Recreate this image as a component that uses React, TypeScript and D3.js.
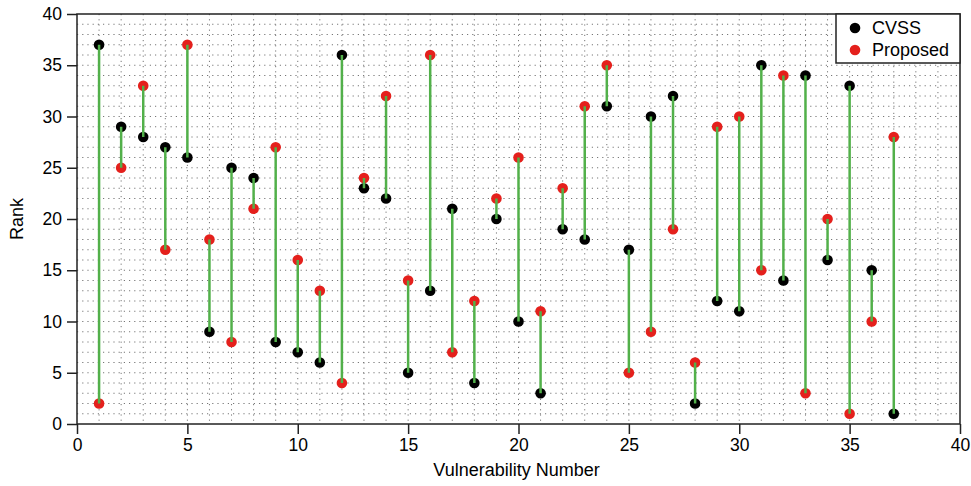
import React, { useEffect, useRef } from 'react';
import * as d3 from 'd3';

const width = 971,
  height = 486;
const margin = { top: 14, right: 11, bottom: 62, left: 77 };

// vulnerability numbers 1..37
const vulnIds = [1, 2, 3, 4, 5, 6, 7, 8, 9, 10, 11, 12, 13, 14, 15, 16, 17, 18, 19, 20, 21, 22, 23, 24, 25, 26, 27, 28, 29, 30, 31, 32, 33, 34, 35, 36, 37];
const cvssRank = [37, 29, 28, 27, 26, 9, 25, 24, 8, 7, 6, 36, 23, 22, 5, 13, 21, 4, 20, 10, 3, 19, 18, 31, 17, 30, 32, 2, 12, 11, 35, 14, 34, 16, 33, 15, 1];
const proposedRank = [2, 25, 33, 17, 37, 18, 8, 21, 27, 16, 13, 4, 24, 32, 14, 36, 7, 12, 22, 26, 11, 23, 31, 35, 5, 9, 19, 6, 29, 30, 15, 34, 3, 20, 1, 10, 28];
const xTicks = [0, 5, 10, 15, 20, 25, 30, 35, 40];
const yTicks = [0, 5, 10, 15, 20, 25, 30, 35, 40];
const legendItems = [
  { name: 'CVSS', color: '#000000' },
  { name: 'Proposed', color: '#e4201c' },
];

const FONT = '"Liberation Sans", Arial, Helvetica, sans-serif';

export default function App() {
  const ref = useRef<SVGSVGElement>(null);

  useEffect(() => {
    const svg = d3.select(ref.current);
    svg.selectAll('*').remove();

    const iw = width - margin.left - margin.right;
    const ih = height - margin.top - margin.bottom;

    const x = d3.scaleLinear().domain([0, 40]).range([0, iw]);
    const y = d3.scaleLinear().domain([0, 40]).range([ih, 0]);

    const g = svg.append('g').attr('transform', `translate(${margin.left},${margin.top})`);

    // dotted grid at every unit
    const units = d3.range(1, 40);
    g.append('g')
      .selectAll('line.vg')
      .data(units)
      .enter()
      .append('line')
      .attr('x1', (d) => x(d))
      .attr('x2', (d) => x(d))
      .attr('y1', 0)
      .attr('y2', ih)
      .attr('stroke', '#777')
      .attr('stroke-width', 1)
      .attr('stroke-dasharray', '1.2,4');
    g.append('g')
      .selectAll('line.hg')
      .data(units)
      .enter()
      .append('line')
      .attr('x1', 0)
      .attr('x2', iw)
      .attr('y1', (d) => y(d))
      .attr('y2', (d) => y(d))
      .attr('stroke', '#777')
      .attr('stroke-width', 1)
      .attr('stroke-dasharray', '1.2,4');

    // axes with minor ticks
    const xAxis = g.append('g').attr('transform', `translate(0,${ih})`);
    xAxis
      .call(d3.axisBottom(x).tickValues(d3.range(0, 41)).tickSize(6).tickFormat(() => ''))
      .call((a) => a.select('.domain').remove());
    xAxis
      .call(d3.axisBottom(x).tickValues(xTicks).tickSize(10).tickPadding(5).tickFormat(d3.format('d')))
      .call((a) => a.select('.domain').remove());

    const yAxis = g.append('g');
    yAxis
      .call(d3.axisLeft(y).tickValues(d3.range(0, 41)).tickSize(6).tickFormat(() => ''))
      .call((a) => a.select('.domain').remove());
    yAxis
      .call(d3.axisLeft(y).tickValues(yTicks).tickSize(10).tickPadding(5).tickFormat(d3.format('d')))
      .call((a) => a.select('.domain').remove());

    svg.selectAll('.tick line').attr('stroke', '#222').attr('stroke-width', 1.5);
    svg
      .selectAll('.tick text')
      .attr('fill', '#000')
      .style('font-family', FONT)
      .style('font-size', '17.5px');

    // frame
    g.append('rect')
      .attr('x', 0)
      .attr('y', 0)
      .attr('width', iw)
      .attr('height', ih)
      .attr('fill', 'none')
      .attr('stroke', '#222')
      .attr('stroke-width', 1.5);

    // dots
    g.append('g')
      .selectAll('circle.cvss')
      .data(vulnIds)
      .enter()
      .append('circle')
      .attr('cx', (d) => x(d))
      .attr('cy', (d, i) => y(cvssRank[i]))
      .attr('r', 5.3)
      .attr('fill', legendItems[0].color);
    g.append('g')
      .selectAll('circle.prop')
      .data(vulnIds)
      .enter()
      .append('circle')
      .attr('cx', (d) => x(d))
      .attr('cy', (d, i) => y(proposedRank[i]))
      .attr('r', 5.3)
      .attr('fill', legendItems[1].color);

    // connecting lines
    g.append('g')
      .selectAll('line.link')
      .data(vulnIds)
      .enter()
      .append('line')
      .attr('x1', (d) => x(d))
      .attr('x2', (d) => x(d))
      .attr('y1', (d, i) => y(cvssRank[i]))
      .attr('y2', (d, i) => y(proposedRank[i]))
      .attr('stroke', '#52b04a')
      .attr('stroke-width', 2.5);

    // legend
    const lg = g.append('g').attr('transform', `translate(${iw - 124},0)`);
    lg.append('rect')
      .attr('width', 124)
      .attr('height', 49)
      .attr('fill', '#fff')
      .attr('stroke', '#222')
      .attr('stroke-width', 1.5);
    legendItems.forEach((item, i) => {
      lg.append('circle')
        .attr('cx', 19)
        .attr('cy', 14 + i * 22)
        .attr('r', 5.3)
        .attr('fill', item.color);
      lg.append('text')
        .attr('x', 36)
        .attr('y', 14 + i * 22)
        .attr('dy', '0.36em')
        .style('font-family', FONT)
        .style('font-size', '18px')
        .text(item.name);
    });

    // axis titles
    svg
      .append('text')
      .attr('x', margin.left + iw / 2 - 2)
      .attr('y', 476)
      .attr('text-anchor', 'middle')
      .style('font-family', FONT)
      .style('font-size', '18px')
      .text('Vulnerability Number');
    svg
      .append('text')
      .attr('transform', `translate(23,${margin.top + ih / 2}) rotate(-90)`)
      .attr('text-anchor', 'middle')
      .style('font-family', FONT)
      .style('font-size', '18px')
      .text('Rank');
  }, []);

  return (
    <svg
      ref={ref}
      width={width}
      height={height}
      style={{ position: 'absolute', left: 0, top: 0, background: '#fff' }}
    />
  );
}
